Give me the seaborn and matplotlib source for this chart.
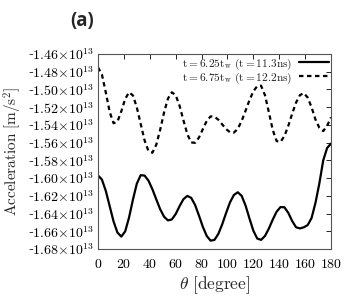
import matplotlib
matplotlib.use("Agg")
import matplotlib.pyplot as plt
import seaborn as sns
import pandas as pd
import numpy as np

# theta in degrees, acceleration in units of 1e13 m/s^2
theta = list(range(0, 181, 3))
acc_625 = [-1.597, -1.6016, -1.6143, -1.6315, -1.6488, -1.6614, -1.666,
           -1.6601, -1.6444, -1.6242, -1.6062, -1.5967, -1.5972, -1.6029,
           -1.6125, -1.6239, -1.635, -1.6435, -1.6477, -1.6467, -1.6406,
           -1.6317, -1.6238, -1.6201, -1.6223, -1.6303, -1.6423, -1.655,
           -1.6653, -1.6706, -1.6697, -1.6629, -1.652, -1.6392, -1.6273,
           -1.619, -1.616, -1.6201, -1.631, -1.6455, -1.6593, -1.6682,
           -1.6697, -1.6653, -1.6569, -1.6468, -1.6379, -1.6327, -1.6329,
           -1.6392, -1.6484, -1.6555, -1.6568, -1.6555, -1.653, -1.645,
           -1.628, -1.606, -1.580, -1.566, -1.561]
acc_675 = [-1.475, -1.483, -1.5032, -1.5252, -1.5381, -1.5364, -1.5247,
           -1.5106, -1.5032, -1.5068, -1.5203, -1.5391, -1.5575, -1.5695,
           -1.5714, -1.5625, -1.5456, -1.5262, -1.5104, -1.5032, -1.5064,
           -1.5183, -1.5348, -1.5504, -1.5598, -1.5602, -1.5542, -1.5447,
           -1.5355, -1.5304, -1.5307, -1.5342, -1.5395, -1.5448, -1.5483,
           -1.5487, -1.5443, -1.5355, -1.524, -1.5121, -1.5022, -1.4962,
           -1.4958, -1.5065, -1.5257, -1.5457, -1.5583, -1.5591, -1.5526,
           -1.5411, -1.5274, -1.5148, -1.5064, -1.5041, -1.5092, -1.5201,
           -1.534, -1.5432, -1.547, -1.541, -1.5315]
labels = [r'$\mathrm{t{=}6.25t_w\ (t{=}11.3ns)}$',
          r'$\mathrm{t{=}6.75t_w\ (t{=}12.2ns)}$']
yticks = [-1.68, -1.66, -1.64, -1.62, -1.60, -1.58, -1.56, -1.54, -1.52,
          -1.50, -1.48, -1.46]
xticks = list(range(0, 181, 20))

sns.set_theme(style="white")
plt.rcParams['font.family'] = ['DejaVu Serif']
plt.rcParams['mathtext.fontset'] = 'cm'

df = pd.DataFrame({'theta': theta, 'a1': acc_625, 'a2': acc_675})

fig = plt.figure(figsize=(3.54, 3.04), dpi=100)
ax = fig.add_axes([98/354, 1-249/304, 233/354, 195/304])

sns.lineplot(data=df, x='theta', y='a1', ax=ax, color='black', lw=1.6,
             label=labels[0])
sns.lineplot(data=df, x='theta', y='a2', ax=ax, color='black', lw=1.6,
             linestyle=(0, (2.0, 1.6)), label=labels[1])

ax.set_xlim(0, 180)
ax.set_ylim(-1.68, -1.46)
ax.set_xticks(xticks)
ax.set_xticklabels([r'$\mathrm{%d}$' % t for t in xticks])
ax.set_yticks(yticks)
# short hyphen as in the original, drawn outside mathtext
ax.set_yticklabels(['-' + r'$\mathrm{%.2f{\times}10^{13}}$' % abs(v)
                    for v in yticks])
ax.tick_params(direction='in', length=3.5, width=0.6, top=True, right=True,
               labelsize=10, pad=3, colors='black')
ax.tick_params(axis='x', pad=6)
for s in ax.spines.values():
    s.set_color('#555555')
    s.set_linewidth(0.8)

ax.set_xlabel(r'$\theta\ \mathrm{[degree]}$', fontsize=12.5, labelpad=2)
ax.set_ylabel(r'$\mathrm{Acceleration\ [m/s^2]}$', fontsize=11, labelpad=3)

ax.legend(loc='upper right', frameon=False, markerfirst=False, fontsize=8.2,
          handlelength=2.6, labelspacing=-0.12, borderaxespad=0.1,
          handletextpad=0.6, borderpad=0.1)

fig.text(82/354, 1-21/304, '(a)', ha='center', va='center',
         fontweight='bold', family='Open Sans', fontsize=13.5)

fig.savefig('out.png', dpi=100)
